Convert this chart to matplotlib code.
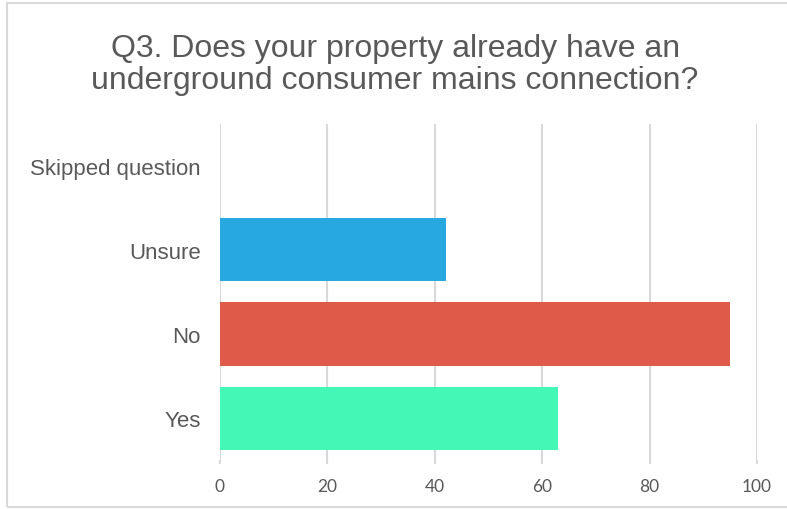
import matplotlib.pyplot as plt
from matplotlib.patches import Rectangle

# data (bottom to top)
categories = ['Yes', 'No', 'Unsure', 'Skipped question']
responses = [63, 95, 42, 0]
bar_colors = ['#45F7B6', '#E05A4A', '#28A8E0', '#999999']
x_ticks = [0, 20, 40, 60, 80, 100]

text_color = '#595959'
grid_color = '#D9D9D9'

fig = plt.figure(figsize=(7.87, 5.10), dpi=100)
ax = fig.add_axes([0.2795, 0.096, 0.6825, 0.659])

ax.barh(categories, responses, height=0.75, color=bar_colors, zorder=3)

ax.set_xlim(0, 100)
ax.set_ylim(-0.5, 3.5)
ax.set_xticks(x_ticks)
ax.xaxis.grid(True, color=grid_color, linewidth=1.5, zorder=0)
for s in ax.spines.values():
    s.set_visible(False)
ax.tick_params(axis='x', length=3, width=1.5, color=grid_color,
               labelsize=12.5, labelcolor=text_color, pad=10)
ax.tick_params(axis='y', length=0, labelsize=16, labelcolor=text_color, pad=14)
for lbl in ax.get_xticklabels():
    lbl.set_fontfamily('Lato')
for lbl in ax.get_yticklabels():
    lbl.set_fontfamily('Liberation Sans')

fig.text(0.502, 0.872, 'Q3. Does your property already have an\nunderground consumer mains connection?',
         ha='center', va='center', fontsize=23, color=text_color,
         family='Liberation Sans', linespacing=1.1)

# light frame around the chart
fig.patches.append(Rectangle((7 / 787, 2 / 510), 1.2, 1 - 6 / 510, transform=fig.transFigure,
                             fill=False, edgecolor='#D9D9D9', linewidth=1.5))

fig.savefig('out.png', dpi=100)
